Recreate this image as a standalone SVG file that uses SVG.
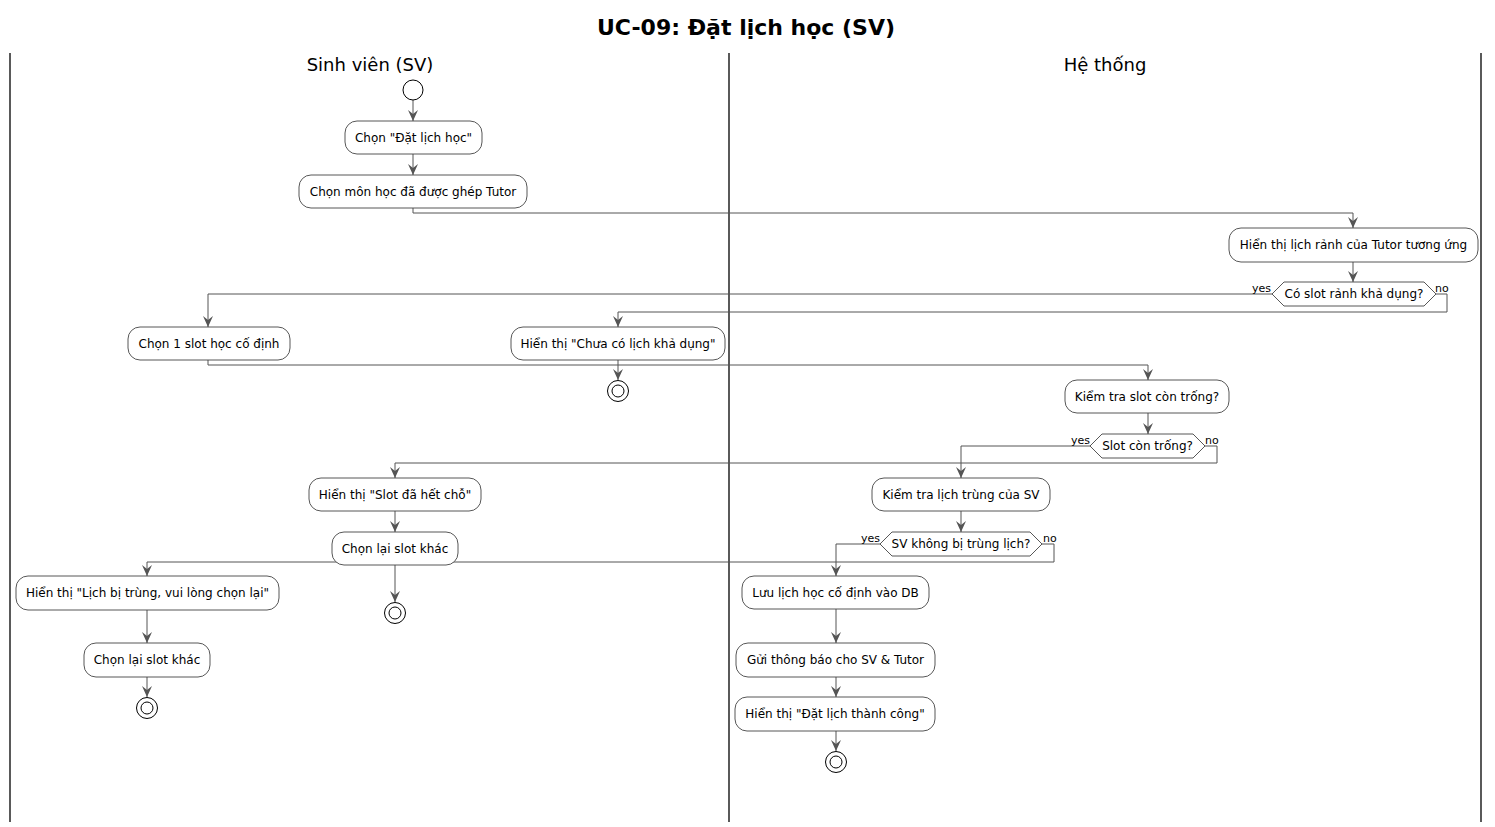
<svg xmlns="http://www.w3.org/2000/svg" width="1495" height="827" viewBox="0 0 1495 827">
<style>
.t{font-family:"DejaVu Sans","Liberation Sans",sans-serif;font-size:12px;fill:#000;text-anchor:middle}
.lbl{font-family:"DejaVu Sans","Liberation Sans",sans-serif;font-size:11px;fill:#000}
.lane{font-family:"DejaVu Sans","Liberation Sans",sans-serif;font-size:18px;fill:#000;text-anchor:middle}
.title{font-family:"DejaVu Sans","Liberation Sans",sans-serif;font-size:22px;font-weight:bold;fill:#000;text-anchor:middle}
.box{fill:#fff;stroke:#444;stroke-width:0.9}
.c{fill:none;stroke:#555;stroke-width:1}
.sep{stroke:#000;stroke-width:1.3}
.end{fill:#fff;stroke:#000;stroke-width:1}
</style>
<defs>
<marker id="a" markerUnits="userSpaceOnUse" markerWidth="14" markerHeight="14" viewBox="0 0 14 14" refX="11" refY="7" orient="auto">
<path d="M0,2 L11,7 L0,12 L4,7 Z" fill="#555"/>
</marker>
</defs>
<rect width="1495" height="827" fill="#fff"/>
<text class="title" x="746" y="35">UC-09: Đặt lịch học (SV)</text>
<g id="lanes">
<line class="sep" x1="10" y1="53" x2="10" y2="822"/>
<line class="sep" x1="729" y1="53" x2="729" y2="822"/>
<line class="sep" x1="1481" y1="53" x2="1481" y2="822"/>
<text class="lane" x="370" y="71">Sinh viên (SV)</text>
<text class="lane" x="1105" y="71">Hệ thống</text>
</g>
<g id="connectors">
<path class="c" d="M413,100 V121" marker-end="url(#a)"/>
<path class="c" d="M413,154 V175" marker-end="url(#a)"/>
<path class="c" d="M413,208 V213 H1353 V228" marker-end="url(#a)"/>
<path class="c" d="M1353,262 V282" marker-end="url(#a)"/>
<path class="c" d="M1272,294 H208 V327" marker-end="url(#a)"/>
<path class="c" d="M1436,294 H1447 V312 H618 V327" marker-end="url(#a)"/>
<path class="c" d="M618,360 V380" marker-end="url(#a)"/>
<path class="c" d="M208,360 V365 H1148 V380" marker-end="url(#a)"/>
<path class="c" d="M1148,413 V434" marker-end="url(#a)"/>
<path class="c" d="M1090,446 H961 V478" marker-end="url(#a)"/>
<path class="c" d="M1205,446 H1217 V463 H395 V478" marker-end="url(#a)"/>
<path class="c" d="M395,511 V532" marker-end="url(#a)"/>
<path class="c" d="M395,565 V602" marker-end="url(#a)"/>
<path class="c" d="M961,511 V532" marker-end="url(#a)"/>
<path class="c" d="M880,544 H836 V576" marker-end="url(#a)"/>
<path class="c" d="M1042,544 H1054 V562 H147 V576" marker-end="url(#a)"/>
<path class="c" d="M147,610 V643" marker-end="url(#a)"/>
<path class="c" d="M147,677 V697" marker-end="url(#a)"/>
<path class="c" d="M836,609 V643" marker-end="url(#a)"/>
<path class="c" d="M836,677 V697" marker-end="url(#a)"/>
<path class="c" d="M836,731 V751" marker-end="url(#a)"/>
<text class="lbl" x="1252" y="292">yes</text>
<text class="lbl" x="1435" y="292">no</text>
<text class="lbl" x="1071" y="444">yes</text>
<text class="lbl" x="1205" y="444">no</text>
<text class="lbl" x="861" y="542">yes</text>
<text class="lbl" x="1043" y="542">no</text>
</g>
<g id="start"><circle cx="413" cy="90" r="10" fill="#fff" stroke="#000" stroke-width="1"/></g>
<g id="n1"><rect class="box" x="345" y="121" width="137" height="33" rx="12"/><text class="t" x="413.5" y="142">Chọn "Đặt lịch học"</text></g>
<g id="n2"><rect class="box" x="299" y="175" width="228" height="33" rx="12"/><text class="t" x="413" y="196">Chọn môn học đã được ghép Tutor</text></g>
<g id="n3"><rect class="box" x="1229" y="228" width="249" height="34" rx="12"/><text class="t" x="1353.5" y="249">Hiển thị lịch rảnh của Tutor tương ứng</text></g>
<g id="d1"><polygon class="box" points="1272,294 1284,282 1424,282 1436,294 1424,306 1284,306"/><text class="t" x="1354" y="298">Có slot rảnh khả dụng?</text></g>
<g id="n4"><rect class="box" x="128" y="327" width="162" height="33" rx="12"/><text class="t" x="209" y="348">Chọn 1 slot học cố định</text></g>
<g id="n5"><rect class="box" x="511" y="327" width="214" height="33" rx="12"/><text class="t" x="618" y="348">Hiển thị "Chưa có lịch khả dụng"</text></g>
<g id="end1"><circle class="end" cx="618" cy="391" r="10.5"/><circle class="end" cx="618" cy="391" r="6" stroke-width="1.5"/></g>
<g id="n6"><rect class="box" x="1065" y="380" width="164" height="33" rx="12"/><text class="t" x="1147" y="401">Kiểm tra slot còn trống?</text></g>
<g id="d2"><polygon class="box" points="1090,446 1102,434 1193,434 1205,446 1193,458 1102,458"/><text class="t" x="1147.5" y="450">Slot còn trống?</text></g>
<g id="n7"><rect class="box" x="309" y="478" width="172" height="33" rx="12"/><text class="t" x="395" y="499">Hiển thị "Slot đã hết chỗ"</text></g>
<g id="n8"><rect class="box" x="872" y="478" width="178" height="33" rx="12"/><text class="t" x="961" y="499">Kiểm tra lịch trùng của SV</text></g>
<g id="n9"><rect class="box" x="332" y="532" width="126" height="33" rx="12"/><text class="t" x="395" y="553">Chọn lại slot khác</text></g>
<g id="end2"><circle class="end" cx="395" cy="613" r="10.5"/><circle class="end" cx="395" cy="613" r="6" stroke-width="1.5"/></g>
<g id="d3"><polygon class="box" points="880,544 892,532 1030,532 1042,544 1030,556 892,556"/><text class="t" x="961" y="548">SV không bị trùng lịch?</text></g>
<g id="n10"><rect class="box" x="742" y="576" width="187" height="33" rx="12"/><text class="t" x="835.5" y="597">Lưu lịch học cố định vào DB</text></g>
<g id="n11"><rect class="box" x="16" y="576" width="263" height="34" rx="12"/><text class="t" x="147.5" y="597">Hiển thị "Lịch bị trùng, vui lòng chọn lại"</text></g>
<g id="n12"><rect class="box" x="84" y="643" width="126" height="34" rx="12"/><text class="t" x="147" y="664">Chọn lại slot khác</text></g>
<g id="end3"><circle class="end" cx="147" cy="708" r="10.5"/><circle class="end" cx="147" cy="708" r="6" stroke-width="1.5"/></g>
<g id="n13"><rect class="box" x="736" y="643" width="199" height="34" rx="12"/><text class="t" x="835.5" y="664">Gửi thông báo cho SV &amp; Tutor</text></g>
<g id="n14"><rect class="box" x="735" y="697" width="200" height="34" rx="12"/><text class="t" x="835" y="718">Hiển thị "Đặt lịch thành công"</text></g>
<g id="end4"><circle class="end" cx="836" cy="762" r="10.5"/><circle class="end" cx="836" cy="762" r="6" stroke-width="1.5"/></g>
</svg>
